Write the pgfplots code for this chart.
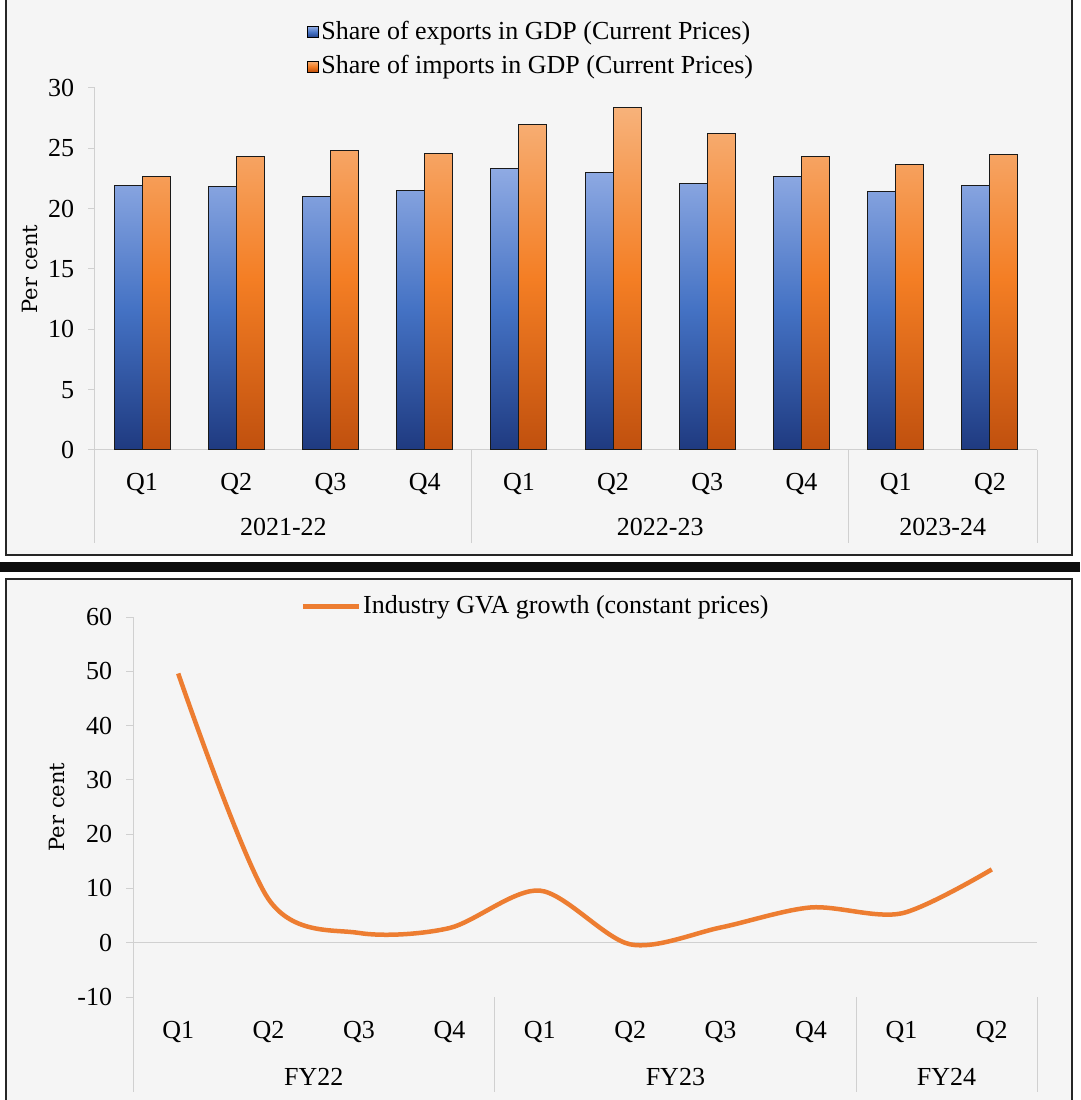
\documentclass[border=0pt]{standalone}
\usepackage{pgfplots}
\pgfplotsset{compat=1.18}
\usepackage{fontspec}
\setmainfont{Liberation Serif}
\newfontfamily\labfont{DejaVu Serif}
\definecolor{expTop}{HTML}{8FAAE3}
\definecolor{expMid}{HTML}{4472C4}
\definecolor{expBot}{HTML}{1F3A80}
\definecolor{impTop}{HTML}{F7B27A}
\definecolor{impMid}{HTML}{F47E24}
\definecolor{impBot}{HTML}{C0500E}
\definecolor{lineor}{HTML}{ED7D31}
\definecolor{panelbg}{HTML}{F5F5F5}
\definecolor{axgray}{HTML}{D0D0D0}
\newcommand{\tfont}{\fontsize{26}{31}\selectfont}
\pgfplotstableread{
x exp imp
0 21.9 22.7
1 21.8 24.3
2 21.0 24.8
3 21.5 24.6
4 23.3 27.0
5 23.0 28.4
6 22.1 26.2
7 22.7 24.3
8 21.4 23.7
9 21.9 24.5
}\tradedata
\pgfplotstableread{
x gva
0 49.6
1 8.0
2 1.8
3 2.7
4 9.6
5 -0.3
6 2.8
7 6.5
8 5.4
9 13.5
}\gvadata
\pgfplotsset{
  common/.style={
    scale only axis, clip=false,
    xmin=-0.5, xmax=9.5,
    axis lines=left,
    axis line style={draw=axgray, line width=1pt, -},
    xtick={0,...,9},
    xticklabels={Q1,Q2,Q3,Q4,Q1,Q2,Q3,Q4,Q1,Q2},
    x tick style={draw=none},
    y tick style={draw=axgray, line width=1pt},
    tick align=outside, major tick length=7pt,
    tick label style={font=\tfont},
    xticklabel style={anchor=base, yshift=-34pt},
    yticklabel style={xshift=-5pt},
    /pgf/number format/assume math mode=true,
    ylabel={\labfont\fontsize{21}{25}\selectfont Per cent},
    legend cell align=left,
  }
}
\begin{document}
\tfont
\begin{tikzpicture}[x=1pt,y=1pt]
\useasboundingbox (0,0) rectangle (1080,1100);
\fill[white] (0,0) rectangle (1080,1100);
\fill[panelbg] (6,545) rectangle (1072,1102);
\draw[black!85, line width=1.5pt] (6,545) rectangle (1072,1102);
\fill[black!95] (0,528) rectangle (1080,538);
\fill[panelbg] (6,-2) rectangle (1072,521);
\draw[black!85, line width=1.5pt] (6,-2) rectangle (1072,521);

\begin{axis}[common,
  at={(95pt,650pt)}, anchor=south west,
  width=942pt, height=362pt,
  ymin=0, ymax=30, ytick={0,5,...,30},
  ybar=0pt, bar width=28pt,
  ylabel style={at={(axis description cs:-0.069,0.5)}, anchor=center},
  legend style={at={(axis description cs:0.222,1.196)}, anchor=north west,
    draw=none, fill=none, font=\tfont, row sep=8pt},
  legend image code/.code={\draw[#1, draw=black, line width=1pt] (0pt,-5.5pt) rectangle (11pt,5.5pt);},
]
\draw[axgray, line width=1pt] (axis cs:-0.5,0) -- (axis cs:-0.5,-7.7);
\draw[axgray, line width=1pt] (axis cs:3.5,0) -- (axis cs:3.5,-7.7);
\draw[axgray, line width=1pt] (axis cs:7.5,0) -- (axis cs:7.5,-7.7);
\draw[axgray, line width=1pt] (axis cs:9.5,0) -- (axis cs:9.5,-7.7);
\node[font=\tfont] at (axis cs:1.5,-6.38) {2021-22};
\node[font=\tfont] at (axis cs:5.5,-6.38) {2022-23};
\node[font=\tfont] at (axis cs:8.5,-6.38) {2023-24};
\addplot[draw=black!90, line width=1pt, top color=expTop, bottom color=expBot, middle color=expMid] table[x=x, y=exp] {\tradedata};
\addlegendentry{Share of exports in GDP (Current Prices)}
\addplot[draw=black!90, line width=1pt, top color=impTop, bottom color=impBot, middle color=impMid] table[x=x, y=imp] {\tradedata};
\addlegendentry{Share of imports in GDP (Current Prices)}
\end{axis}

\begin{axis}[common,
  at={(133pt,103pt)}, anchor=south west,
  width=904pt, height=380pt,
  ymin=-10, ymax=60, ytick={-10,0,...,60},
  x axis line style={draw=none},
  ylabel style={at={(axis description cs:-0.084,0.5)}, anchor=center},
  legend style={at={(axis description cs:0.182,1.068)}, anchor=north west,
    draw=none, fill=none, font=\tfont},
  legend image code/.code={\draw[#1] (0pt,0pt) -- (56pt,0pt);},
]
\draw[axgray, line width=1pt] (axis cs:-0.5,0) -- (axis cs:9.5,0);
\draw[axgray, line width=1pt] (axis cs:-0.5,-10) -- (axis cs:-0.5,-27.5);
\draw[axgray, line width=1pt] (axis cs:3.5,-10) -- (axis cs:3.5,-27.5);
\draw[axgray, line width=1pt] (axis cs:7.5,-10) -- (axis cs:7.5,-27.5);
\draw[axgray, line width=1pt] (axis cs:9.5,-10) -- (axis cs:9.5,-27.5);
\node[font=\tfont] at (axis cs:1.5,-24.7) {FY22};
\node[font=\tfont] at (axis cs:5.5,-24.7) {FY23};
\node[font=\tfont] at (axis cs:8.5,-24.7) {FY24};
\addplot[lineor, line width=4.5pt, smooth, no markers] table[x=x, y=gva] {\gvadata};
\addlegendentry{Industry GVA growth (constant prices)}
\end{axis}
\end{tikzpicture}
\end{document}
